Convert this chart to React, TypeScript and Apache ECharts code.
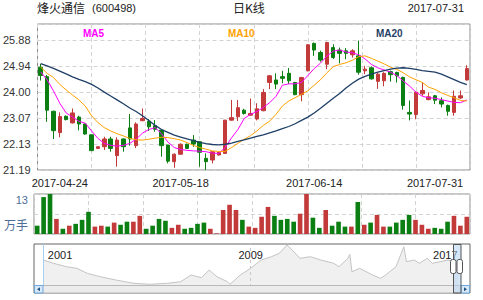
import React, { useEffect, useRef } from 'react';
import * as echarts from 'echarts';

// ---- data ----
const dates = [
  '2017-04-24','2017-04-25','2017-04-26','2017-04-27','2017-04-28',
  '2017-05-02','2017-05-03','2017-05-04','2017-05-05',
  '2017-05-08','2017-05-09','2017-05-10','2017-05-11','2017-05-12',
  '2017-05-15','2017-05-16','2017-05-17','2017-05-18','2017-05-19',
  '2017-05-22','2017-05-23','2017-05-24','2017-05-25','2017-05-26',
  '2017-05-31','2017-06-01','2017-06-02',
  '2017-06-05','2017-06-06','2017-06-07','2017-06-08','2017-06-09',
  '2017-06-12','2017-06-13','2017-06-14','2017-06-15','2017-06-16',
  '2017-06-19','2017-06-20','2017-06-21','2017-06-22','2017-06-23',
  '2017-06-26','2017-06-27','2017-06-28','2017-06-29','2017-06-30',
  '2017-07-03','2017-07-04','2017-07-05','2017-07-06','2017-07-07',
  '2017-07-10','2017-07-11','2017-07-12','2017-07-13','2017-07-14',
  '2017-07-17','2017-07-18','2017-07-19','2017-07-20','2017-07-21',
  '2017-07-24','2017-07-25','2017-07-26','2017-07-27','2017-07-28',
  '2017-07-31'
];

const opens = [
  24.90,24.56,23.31,22.54,23.13,22.89,23.10,22.85,22.46,21.97,
  22.03,22.31,21.71,22.31,22.71,22.07,22.97,22.95,22.79,22.63,
  22.09,21.49,21.76,22.12,22.27,22.21,21.61,21.55,21.73,21.79,
  22.99,23.11,23.35,23.17,23.03,23.33,24.35,24.44,24.56,24.68,
  24.35,23.91,24.77,25.76,25.43,25.01,25.61,25.52,25.49,25.35,
  25.31,24.77,24.88,24.39,24.41,24.74,24.71,24.53,23.27,23.19,
  23.94,23.73,23.87,23.69,23.52,23.27,23.79,24.44
];
const closes = [
  24.60,23.35,22.61,23.12,23.01,23.25,22.85,22.49,21.89,22.03,
  22.31,21.97,22.27,22.03,22.31,22.85,23.05,22.75,22.66,22.07,
  21.51,21.76,22.12,21.97,22.13,21.83,21.49,21.85,21.83,22.99,
  23.08,23.44,23.23,23.23,23.40,23.99,24.59,24.29,24.50,24.41,
  23.91,24.53,25.71,25.52,25.16,25.79,25.25,25.40,25.40,25.49,
  24.72,24.83,24.48,24.65,24.68,24.63,24.59,23.52,23.21,24.00,
  24.06,23.83,23.71,23.57,23.31,23.85,23.87,24.85
];
const lows = [
  24.42,22.93,22.31,22.37,22.98,22.87,22.62,22.46,21.87,21.95,
  21.91,21.85,21.31,21.85,22.07,21.98,22.95,22.60,22.57,21.67,
  21.43,21.27,21.74,21.95,22.03,21.31,21.19,21.43,21.71,21.78,
  22.97,22.96,23.19,23.15,22.98,23.31,24.11,24.11,24.32,24.29,
  23.89,23.67,24.75,25.31,25.10,24.83,25.20,25.04,25.19,25.25,
  24.63,24.65,24.45,24.12,24.21,24.38,24.35,23.37,22.98,23.02,
  23.87,23.71,23.57,23.45,23.15,23.15,23.75,24.42
];
const highs = [
  25.02,24.62,23.33,23.27,23.16,23.41,23.15,22.87,22.47,22.05,
  22.39,22.39,22.37,22.33,23.21,22.91,23.41,23.03,22.99,22.65,
  22.10,21.79,22.15,22.14,22.45,22.23,21.79,21.87,21.85,23.00,
  23.72,23.72,23.40,23.77,23.60,24.11,24.62,24.68,24.77,24.87,
  24.37,24.55,25.73,25.79,25.50,25.82,25.73,25.61,25.59,25.55,
  25.86,24.95,24.93,24.70,24.72,24.78,24.74,24.56,23.70,24.02,
  24.36,23.99,23.90,23.81,23.55,24.06,24.06,24.97
];

// volume, 万手
const volumes = [
  2.7,12.0,13.0,4.9,1.7,2.7,3.3,4.6,7.2,2.4,
  2.7,2.4,3.7,3.0,4.0,4.0,5.9,1.7,2.7,4.9,
  4.3,2.0,3.0,1.7,2.0,3.3,3.7,1.7,0.2,7.8,
  9.5,7.8,4.6,2.4,2.0,5.6,8.8,5.9,4.6,4.9,
  4.0,6.6,13.0,5.3,2.0,7.8,2.7,4.0,2.4,2.4,
  10.4,3.0,3.7,6.2,2.4,2.4,3.7,4.6,6.2,4.6,
  3.0,1.7,2.0,1.7,4.0,5.9,2.7,5.6
];

const ma5 = [
  24.73,24.45,24.05,23.60,23.25,23.10,22.95,22.88,22.60,22.33,
  22.15,22.08,22.05,22.08,22.15,22.30,22.52,22.65,22.72,22.50,
  22.20,22.00,21.93,21.90,21.88,21.87,21.85,21.80,21.79,22.00,
  22.35,22.65,23.05,23.20,23.30,23.45,23.62,23.85,24.25,24.30,
  24.30,24.35,24.60,24.85,25.05,25.30,25.48,25.52,25.45,25.42,
  25.35,25.20,25.00,24.88,24.80,24.72,24.60,24.40,24.22,24.00,
  23.85,23.80,23.78,23.73,23.68,23.63,23.62,23.72
];
const ma10 = [
  24.90,24.68,24.53,24.28,24.08,23.90,23.72,23.50,23.15,22.90,
  22.72,22.60,22.50,22.42,22.33,22.28,22.27,22.30,22.34,22.37,
  22.36,22.32,22.27,22.18,22.08,22.00,21.94,21.88,21.86,21.86,
  22.00,22.15,22.30,22.43,22.60,22.80,22.95,23.20,23.50,23.68,
  23.80,23.92,24.05,24.25,24.45,24.70,24.92,25.00,25.06,25.15,
  25.28,25.31,25.22,25.12,25.02,24.90,24.82,24.70,24.55,24.45,
  24.35,24.18,24.10,23.98,23.88,23.80,23.70,23.68
];
const ma20 = [
  25.03,24.95,24.86,24.76,24.66,24.55,24.46,24.38,24.28,24.15,
  24.00,23.86,23.72,23.58,23.43,23.30,23.15,22.98,22.80,22.65,
  22.55,22.45,22.38,22.31,22.25,22.19,22.14,22.11,22.10,22.12,
  22.16,22.22,22.28,22.34,22.40,22.46,22.53,22.60,22.68,22.76,
  22.86,22.98,23.10,23.25,23.42,23.60,23.78,23.95,24.15,24.32,
  24.47,24.57,24.65,24.72,24.78,24.83,24.87,24.88,24.86,24.82,
  24.78,24.75,24.72,24.65,24.55,24.45,24.35,24.27
];

const xTickLabels = ['2017-04-24', '2017-05-18', '2017-06-14', '2017-07-31'];
const priceTicks = { min: 21.19, step: 0.938 };
const volumeMax = 13;

// long-term history shown in the navigator (relative level)
const navYears = [
  2001.0,2001.4,2001.9,2002.3,2002.7,2003.2,2003.8,2004.5,2005.1,2005.8,
  2006.3,2006.7,2007.1,2007.4,2007.7,2008.1,2008.2,2008.6,2009.0,2009.4,
  2009.8,2010.1,2010.4,2010.6,2010.9,2011.3,2011.7,2012.2,2012.4,2012.75,
  2012.82,2012.9,2013.2,2013.7,2014.0,2014.2,2014.6,2014.8,2014.9,2015.0,
  2015.3,2015.5,2015.8,2016.0,2016.3,2016.6,2016.8,2017.0
];
const navValues = [
  25,21.7,18.3,16.7,11.7,8.3,5,1.7,0.7,1.7,
  3.3,10,7.3,15,8.3,3.3,0.7,10,16.7,25,
  28.3,31.7,40,35,26.7,28.3,25,21.7,18.3,26.7,
  30.7,13.3,16.7,10,6.7,10,18.3,31.7,38.3,23.3,
  25,21.7,26.7,21.7,23.3,25,23.3,24
];
const navTickYears = [2001, 2009, 2017];

// ---- styles ----
const UP = '#c33a3b';
const DOWN = '#0b7f12';
const FONT = "'Liberation Sans', Arial, 'Noto Sans CJK SC', sans-serif";
const CJK = "'Noto Sans CJK SC', 'Liberation Sans', sans-serif";
const GRID_LINE = { show: true, lineStyle: { color: '#d3d3d3', type: [4, 3] as any, width: 1 } };
const labelSlots = [3, 22, 43, 62];

export default function App() {
  const ref = useRef<HTMLDivElement>(null);

  useEffect(() => {
    if (!ref.current) return;
    const chart = echarts.init(ref.current, null, { renderer: 'svg' });

    const candles = dates.map((_, i) => [opens[i], closes[i], lows[i], highs[i]]);
    const volData = volumes.map((v, i) => ({
      value: v,
      itemStyle: { color: closes[i] >= opens[i] ? UP : DOWN },
    }));
    const navData = navYears.map((y, i) => [y, navValues[i]]);

    const hiddenAxisParts = {
      axisLine: { show: false },
      axisTick: { show: false },
      axisLabel: { show: false },
    };

    const option: any = {
      animation: false,
      backgroundColor: '#fff',
      textStyle: { fontFamily: FONT },
      title: [
        { text: '烽火通信', left: 37, top: 1, padding: 0, textStyle: { fontSize: 12, fontWeight: 'normal', color: '#222', fontFamily: CJK } },
        { text: '(600498)', left: 92, top: 2, padding: 0, textStyle: { fontSize: 11, fontWeight: 'normal', color: '#222', fontFamily: FONT } },
        { text: '日K线', left: 233, top: 1, padding: 0, textStyle: { fontSize: 12, fontWeight: 'normal', color: '#222', fontFamily: CJK } },
        { text: '2017-07-31', right: 19, top: 2, padding: 0, textStyle: { fontSize: 11, fontWeight: 'normal', color: '#222', fontFamily: FONT } },
      ],
      legend: [
        { data: ['MA5'], left: 78, top: 26, icon: 'none', itemWidth: 0, itemHeight: 14, padding: 0, selectedMode: false, textStyle: { color: '#ff00ff', fontWeight: 'bold', fontSize: 10, fontFamily: FONT } },
        { data: ['MA10'], left: 223, top: 26, icon: 'none', itemWidth: 0, itemHeight: 14, padding: 0, selectedMode: false, textStyle: { color: '#ffa200', fontWeight: 'bold', fontSize: 10, fontFamily: FONT } },
        { data: ['MA20'], left: 371, top: 26, icon: 'none', itemWidth: 0, itemHeight: 14, padding: 0, selectedMode: false, textStyle: { color: '#1f3f66', fontWeight: 'bold', fontSize: 10, fontFamily: FONT } },
      ],
      grid: [
        { left: 34, right: 13, top: 24, height: 146, show: true, borderColor: '#8c8c8c', borderWidth: 1, backgroundColor: 'transparent' },
        { left: 34, right: 13, top: 194, height: 40, show: true, borderColor: '#8c8c8c', borderWidth: 1, backgroundColor: 'transparent' },
        { left: 34, right: 13, top: 244, height: 49, show: true, borderColor: '#666', borderWidth: 1, backgroundColor: 'transparent' },
      ],
      xAxis: [
        {
          type: 'category', gridIndex: 0, data: dates, boundaryGap: true,
          axisLine: { show: false }, axisTick: { show: false }, splitLine: { show: false },
          axisLabel: {
            interval: (idx: number) => labelSlots.includes(idx),
            formatter: (_v: string, idx: number) => {
              const k = labelSlots.indexOf(idx);
              return k >= 0 ? xTickLabels[k] : '';
            },
            fontSize: 11, color: '#222', margin: 7, fontFamily: FONT,
          },
        },
        {
          type: 'category', gridIndex: 1, data: dates, boundaryGap: true,
          ...hiddenAxisParts, splitLine: { show: false },
        },
        { type: 'value', gridIndex: 0, min: 0, max: 8, interval: 1, ...hiddenAxisParts, splitLine: GRID_LINE },
        { type: 'value', gridIndex: 1, min: 0, max: 8, interval: 1, ...hiddenAxisParts, splitLine: GRID_LINE },
        {
          type: 'value', gridIndex: 2, min: 2000.65, max: 2017.45, position: 'top',
          axisLine: { show: false }, axisTick: { show: false }, splitLine: { show: false },
          axisLabel: {
            inside: true, margin: 5, fontSize: 11, color: '#222', fontFamily: FONT,
            customValues: navTickYears,
            formatter: (v: number) => {
              const y = Math.round(v);
              if (y === navTickYears[0]) return '{l|' + y + '}';
              if (y === navTickYears[navTickYears.length - 1]) return '{r|' + y + '}';
              return '{c|' + y + '}';
            },
            rich: {
              l: { fontSize: 11, color: '#222', fontFamily: FONT, padding: [0, 0, 0, 34] },
              r: { fontSize: 11, color: '#222', fontFamily: FONT, padding: [0, 26, 0, 0] },
              c: { fontSize: 11, color: '#222', fontFamily: FONT },
            },
          },
        },
      ],
      yAxis: [
        {
          type: 'value', gridIndex: 0, min: priceTicks.min, max: 26.46, interval: priceTicks.step,
          axisLine: { show: false }, axisTick: { show: false },
          splitLine: GRID_LINE,
          axisLabel: {
            showMaxLabel: false, fontSize: 11, color: '#333', margin: 7, fontFamily: FONT,
            formatter: (v: number) => v.toFixed(2),
          },
        },
        {
          type: 'value', gridIndex: 1, min: 0, max: volumeMax, interval: volumeMax / 2,
          axisLine: { show: false }, axisTick: { show: false },
          splitLine: GRID_LINE,
          axisLabel: {
            margin: 6,
            formatter: (v: number) => (v === volumeMax ? '{a|' + volumeMax + '}' : v === 0 ? '{b|万手}' : ''),
            rich: {
              a: { fontSize: 11, color: '#4e6d97', fontFamily: FONT, padding: [12, 0, 0, 0] },
              b: { fontSize: 12, color: '#4e6d97', fontFamily: CJK, padding: [0, 0, 20, 0] },
            },
          },
        },
        { type: 'value', gridIndex: 2, min: -8, max: 41, show: false },
      ],
      series: [
        {
          name: 'K', type: 'candlestick', xAxisIndex: 0, yAxisIndex: 0, data: candles,
          barWidth: '62%',
          itemStyle: { color: UP, color0: DOWN, borderColor: UP, borderColor0: DOWN, borderWidth: 1 },
        },
        {
          name: 'MA5', type: 'line', xAxisIndex: 0, yAxisIndex: 0, data: ma5, symbol: 'none',
          lineStyle: { color: '#ff00ff', width: 1 }, itemStyle: { color: '#ff00ff' },
        },
        {
          name: 'MA10', type: 'line', xAxisIndex: 0, yAxisIndex: 0, data: ma10, symbol: 'none',
          lineStyle: { color: '#ffa200', width: 1 }, itemStyle: { color: '#ffa200' },
        },
        {
          name: 'MA20', type: 'line', xAxisIndex: 0, yAxisIndex: 0, data: ma20, symbol: 'none',
          lineStyle: { color: '#1f3f66', width: 1.3 }, itemStyle: { color: '#1f3f66' },
        },
        {
          name: 'VOL', type: 'bar', xAxisIndex: 1, yAxisIndex: 1, data: volData, barWidth: '72%',
        },
        {
          name: 'NAV', type: 'line', xAxisIndex: 4, yAxisIndex: 2, data: navData, symbol: 'none',
          lineStyle: { color: '#c4c4c4', width: 1 },
          areaStyle: { color: '#f0f0f0', opacity: 1 },
          markLine: {
            silent: true, symbol: ['none', 'none'], label: { show: false },
            data: [
              { xAxis: navTickYears[0], lineStyle: { color: '#a9d0f2', type: 'solid', width: 1 } },
              { xAxis: navTickYears[1], lineStyle: { color: '#c8c8c8', type: [3, 3], width: 1 } },
            ],
          },
        },
      ],
      graphic: [
        // scrollbar track
        { type: 'rect', z: 100, shape: { x: 34.5, y: 285.5, width: 435, height: 7.5 }, style: { fill: '#ececec', stroke: '#b9b9b9', lineWidth: 1 } },
        // left button
        { type: 'rect', z: 101, shape: { x: 34.5, y: 285.5, width: 8.5, height: 7.5 }, style: { fill: '#d6e9fb', stroke: '#6fa7dd', lineWidth: 1 } },
        { type: 'polygon', z: 102, shape: { points: [[37, 289.3], [40, 287.3], [40, 291.3]] }, style: { fill: '#24527f' } },
        // right button
        { type: 'rect', z: 101, shape: { x: 461, y: 285.5, width: 8.5, height: 7.5 }, style: { fill: '#d6e9fb', stroke: '#6fa7dd', lineWidth: 1 } },
        { type: 'polygon', z: 102, shape: { points: [[467, 289.3], [464, 287.3], [464, 291.3]] }, style: { fill: '#24527f' } },
        // selected window
        { type: 'rect', z: 103, shape: { x: 453.5, y: 244.5, width: 7.5, height: 48.5 }, style: { fill: 'rgba(180,212,243,0.55)', stroke: '#555', lineWidth: 1 } },
        // handles
        { type: 'rect', z: 104, shape: { x: 450.5, y: 259.5, width: 5.5, height: 14, r: 2 }, style: { fill: '#fff', stroke: '#555', lineWidth: 1 } },
        { type: 'rect', z: 104, shape: { x: 457, y: 259.5, width: 5.5, height: 14, r: 2 }, style: { fill: '#fff', stroke: '#555', lineWidth: 1 } },
      ],
    };

    chart.setOption(option);
    return () => chart.dispose();
  }, []);

  return (
    <div
      ref={ref}
      style={{ position: 'fixed', left: 0, top: 0, width: 483, height: 300, background: '#fff' }}
    />
  );
}
